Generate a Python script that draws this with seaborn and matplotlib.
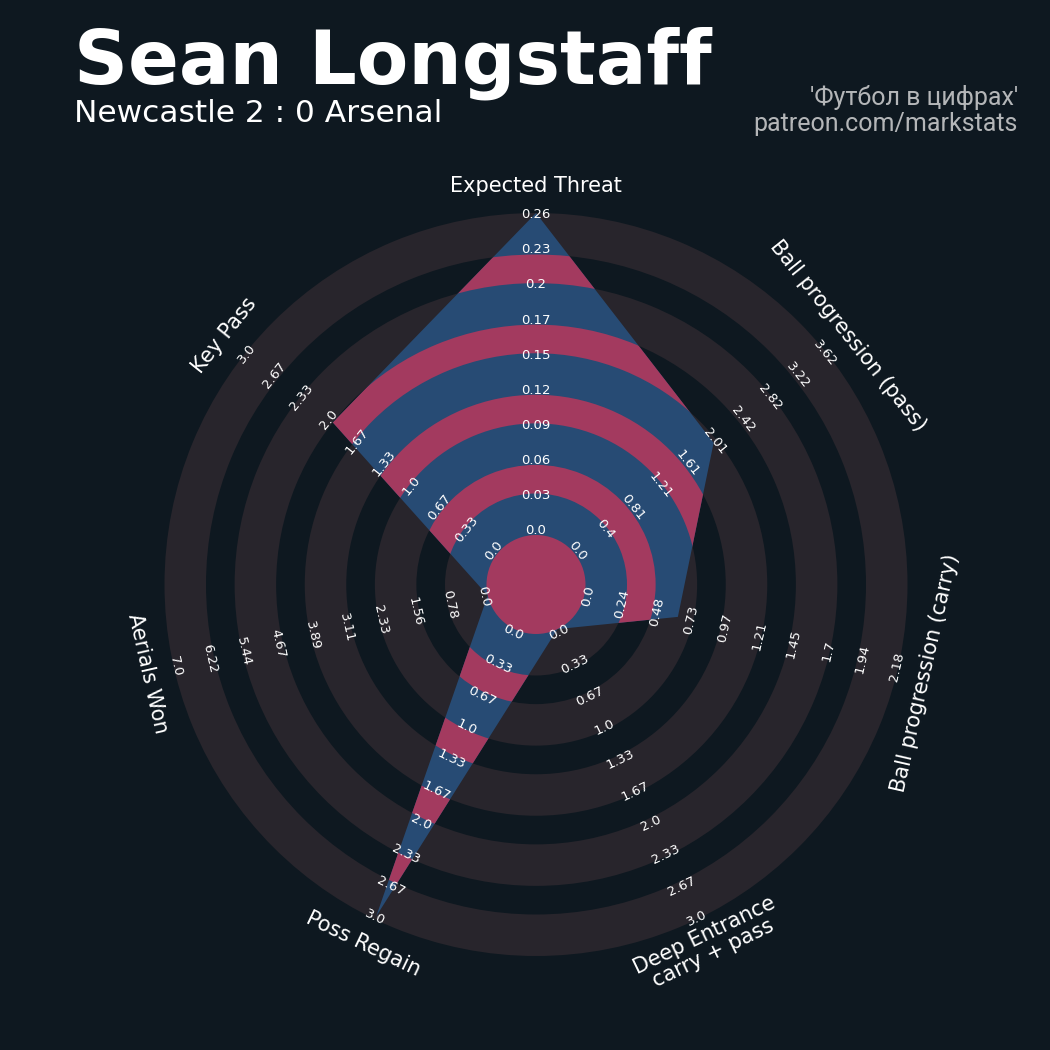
import numpy as np
import matplotlib
matplotlib.use("Agg")
import matplotlib.pyplot as plt
from matplotlib.patches import Wedge, Circle, Polygon
import seaborn as sns

# ---------------- data ----------------
params = ["Expected Threat", "Ball progression (pass)", "Ball progression (carry)",
          "Deep Entrance\ncarry + pass", "Poss Regain", "Aerials Won", "Key Pass"]
low = [0.0, 0.0, 0.0, 0.0, 0.0, 0.0, 0.0]
high = [0.262, 3.624, 2.18, 3.0, 3.0, 7.0, 3.0]
values = [0.262, 2.0, 0.65, 0.0, 2.97, 0.0, 1.96]

ticks_xt = ["0.0", "0.03", "0.06", "0.09", "0.12", "0.15", "0.17", "0.2", "0.23", "0.26"]
ticks_pass = ["0.0", "0.4", "0.81", "1.21", "1.61", "2.01", "2.42", "2.82", "3.22", "3.62"]
ticks_carry = ["0.0", "0.24", "0.48", "0.73", "0.97", "1.21", "1.45", "1.7", "1.94", "2.18"]
ticks_three = ["0.0", "0.33", "0.67", "1.0", "1.33", "1.67", "2.0", "2.33", "2.67", "3.0"]
ticks_aerial = ["0.0", "0.78", "1.56", "2.33", "3.11", "3.89", "4.67", "5.44", "6.22", "7.0"]
tick_labels = [ticks_xt, ticks_pass, ticks_carry, ticks_three, ticks_three, ticks_aerial, ticks_three]

title = "Sean Longstaff"
subtitle = "Newcastle 2 : 0 Arsenal"
credit = ["'Футбол в цифрах'", "patreon.com/markstats"]

# ---------------- style ----------------
BG = "#0E1820"
RING = "#28252C"
BLUE = "#274B74"
CRIMSON = "#A33A5F"

sns.set_theme(style="dark", rc={"figure.facecolor": BG, "axes.facecolor": BG})
plt.rcParams["font.family"] = ["DejaVu Sans"]

W = 1050
fig = plt.figure(figsize=(10.5, 10.5), dpi=100)
fig.patch.set_facecolor(BG)
cx, cy = 536.0, 584.5
ax = fig.add_axes([0, 0, 1, 1])
ax.set_xlim(-cx, W - cx)
ax.set_ylim(-(W - cy), cy)
ax.set_facecolor(BG)
ax.axis("off")

C0 = 49.5      # center circle radius
R = 371.5      # outer radius
G = 41.5       # grey ring width
P = (R - C0 - G) / 4.0  # period

# grey rings
for k in range(5):
    r_in = C0 + k * P
    ax.add_patch(Wedge((0, 0), r_in + G, 0, 360, width=G, facecolor=RING,
                       edgecolor="none", zorder=1))

n = len(params)
angles = np.deg2rad(90 - np.arange(n) * 360.0 / n)

# radar polygon
radii = [C0 + (v - lo) / (hi - lo) * (R - C0) for v, lo, hi in zip(values, low, high)]
pts = np.column_stack([np.array(radii) * np.cos(angles), np.array(radii) * np.sin(angles)])
poly = Polygon(pts, closed=True, facecolor=BLUE, edgecolor="none", zorder=2)
ax.add_patch(poly)

# crimson rings clipped to polygon
ax.add_patch(Circle((0, 0), C0, facecolor=CRIMSON, edgecolor="none", zorder=3))
for k in range(4):
    r_in = C0 + G + k * P
    r_out = C0 + (k + 1) * P
    w = Wedge((0, 0), r_out, 0, 360, width=r_out - r_in, facecolor=CRIMSON,
              edgecolor="none", zorder=3)
    ax.add_patch(w)
    w.set_clip_path(poly)


def rot_for(theta_deg):
    rot = theta_deg - 90
    rot = (rot + 180) % 360 - 180
    if rot < -90:
        rot += 180
    elif rot > 90:
        rot -= 180
    return rot


# tick labels
L0, L1 = 53.5, 370.0
for i in range(n):
    th = np.rad2deg(angles[i])
    rot = rot_for(th)
    labs = tick_labels[i]
    for j, lab in enumerate(labs):
        r = L0 + j * (L1 - L0) / (len(labs) - 1)
        ax.text(r * np.cos(angles[i]), r * np.sin(angles[i]), lab, rotation=rot,
                rotation_mode="anchor", ha="center", va="center", fontsize=9.5,
                color="white", zorder=5)

# parameter labels
RP = 399.0
for i in range(n):
    th = np.rad2deg(angles[i])
    rot = rot_for(th)
    ax.text(RP * np.cos(angles[i]), RP * np.sin(angles[i]), params[i], rotation=rot,
            rotation_mode="anchor", ha="center", va="center", fontsize=15,
            color="white", multialignment="center", linespacing=1.0, zorder=5)

# titles
fig.text(74 / W, 1 - 83 / W, title, fontsize=54, fontweight="bold", color="white",
         ha="left", va="baseline")
fig.text(74 / W, 1 - 122 / W, subtitle, fontsize=22.5, color="white",
         ha="left", va="baseline")
fig.text(1018 / W, 1 - 105 / W, credit[0], fontsize=18, color="#B4B6B8",
         ha="right", va="baseline", family=["Roboto", "DejaVu Sans"])
fig.text(1018 / W, 1 - 131 / W, credit[1], fontsize=18, color="#B4B6B8",
         ha="right", va="baseline", family=["Roboto", "DejaVu Sans"])

fig.savefig("out.png", dpi=100, facecolor=BG)
